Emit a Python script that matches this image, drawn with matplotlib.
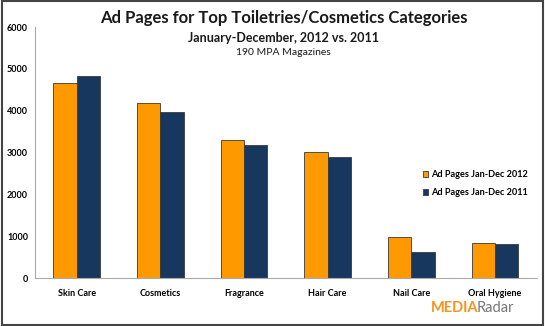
import numpy as np
import matplotlib
matplotlib.use("Agg")
import matplotlib.pyplot as plt
from matplotlib.patches import Rectangle

plt.rcParams['font.family'] = ['Lato', 'DejaVu Sans']

# data
categories = ["Skin Care", "Cosmetics", "Fragrance", "Hair Care", "Nail Care", "Oral Hygiene"]
pages_2012 = [4660, 4190, 3300, 3010, 980, 840]
pages_2011 = [4830, 3960, 3180, 2890, 620, 810]
yticks = [0, 1000, 2000, 3000, 4000, 5000, 6000]

fig = plt.figure(figsize=(5.45, 3.26), dpi=100)
ax = fig.add_axes([0.064, 0.147, 0.921, 0.77])

x = np.arange(len(categories))
w = 0.28
ax.bar(x - w/2, pages_2012, w, color="#FF9900", edgecolor="#3a3a3a", linewidth=0.6,
       label="Ad Pages Jan-Dec 2012")
ax.bar(x + w/2, pages_2011, w, color="#17375E", edgecolor="#3a3a3a", linewidth=0.6,
       label="Ad Pages Jan-Dec 2011")

ax.set_xlim(-0.5, len(categories) - 0.5)
ax.set_ylim(0, 6000)
ax.set_yticks(yticks)
ax.set_yticklabels([str(t) for t in yticks], fontsize=6.5, fontweight='bold')
ax.set_xticks(x)
ax.set_xticklabels(categories, fontsize=6.5, fontweight='bold')
ax.tick_params(axis='x', length=0, pad=8)
ax.tick_params(axis='y', length=0, pad=5)
for s in ['top', 'right']:
    ax.spines[s].set_visible(False)
ax.spines['left'].set_color('#aaaaaa')
ax.spines['bottom'].set_color('#aaaaaa')
ax.spines['left'].set_linewidth(0.8)
ax.spines['bottom'].set_linewidth(0.8)

leg = ax.legend(loc='upper left', bbox_to_anchor=(0.765, 0.445), frameon=False,
                handlelength=0.6, handleheight=0.6, handletextpad=0.3,
                labelspacing=1.0, borderaxespad=0, prop={'weight': 'bold', 'size': 6.6})

# titles
fig.text(0.52, 0.945, "Ad Pages for Top Toiletries/Cosmetics Categories",
         ha='center', va='center', fontsize=12, fontweight='bold', color='#1a1a1a')
fig.text(0.52, 0.883, "January-December, 2012 vs. 2011",
         ha='center', va='center', fontsize=9, fontweight='bold', color='#1a1a1a')
fig.text(0.52, 0.838, "190 MPA Magazines",
         ha='center', va='center', fontsize=7.5, color='#1a1a1a')

# logo
fig.text(0.79, 0.055, "MEDIA", ha='left', va='center', fontsize=10.5,
         fontweight='bold', color='#F7931E')
fig.text(0.875, 0.055, "Radar", ha='left', va='center', fontsize=10.5,
         color='#777777')

# outer frame
fig.patches.append(Rectangle((0.003, 0.004), 0.994, 0.992, transform=fig.transFigure,
                             fill=False, edgecolor='#444444', linewidth=1.5))

fig.savefig("out.png", dpi=100)
